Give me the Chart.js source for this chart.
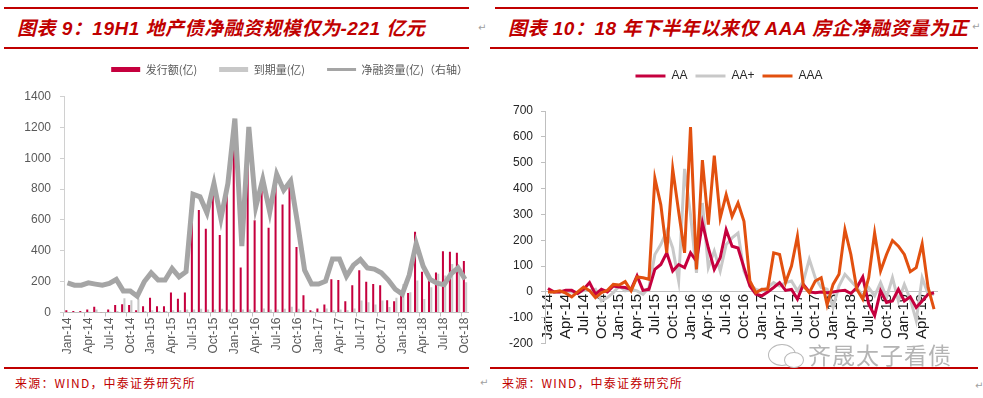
<!DOCTYPE html>
<html lang="zh-CN">
<head>
<meta charset="UTF-8">
<title>地产债净融资</title>
<script src="https://cdn.jsdelivr.net/npm/chart.js"></script>
<style>
  body { margin: 0; width: 983px; height: 398px; background: #fff; position: relative; overflow: hidden;
         font-family: "Liberation Sans", Arial, "Noto Sans CJK SC", sans-serif; }
  .rule { position: absolute; background: #C00000; }
  .title { position: absolute; top: 13px; height: 24px; line-height: 24px; white-space: nowrap; letter-spacing: 0.5px;
           font: italic bold 19px "Liberation Sans", Arial, "Noto Sans CJK SC", sans-serif; color: #C00000; }
  .source { position: absolute; top: 374px; line-height: 18px; white-space: nowrap;
            font: 12px "Noto Sans CJK SC", sans-serif; color: #C00000; letter-spacing: 1.2px; }
  .mark { position: absolute; font: 10px "DejaVu Sans", sans-serif; color: #a0a0a0; }
  .wm { position: absolute; left: 808px; top: 337px; font: 23px "Noto Sans CJK SC", sans-serif; color: #b4b4b4;
        letter-spacing: 1px; white-space: nowrap; }
  .wm-icon { position: absolute; left: 768px; top: 344px; width: 26px; height: 20px; border: 1.5px solid #b9b9b9; border-radius: 50%; }
  .wm-icon2 { position: absolute; left: 784px; top: 352px; width: 18px; height: 14px; border: 1.5px solid #b9b9b9; border-radius: 50%; background: #fff; }
  .box { position: absolute; }
</style>
</head>
<body>
  <!-- left panel frame -->
  <div class="rule" style="left:4px;top:7px;width:465px;height:2px"></div>
  <div class="title" style="left:17px">图表 9：19H1 地产债净融资规模仅为-221 亿元</div>
  <div class="rule" style="left:4px;top:47px;width:465px;height:1.5px"></div>
  <div class="rule" style="left:4px;top:367px;width:465px;height:1.5px"></div>
  <div class="source" style="left:15px">来源：WIND，中泰证券研究所</div>

  <!-- right panel frame -->
  <div class="rule" style="left:495px;top:7px;width:483px;height:2px"></div>
  <div class="title" style="left:508px">图表 10：18 年下半年以来仅 AAA 房企净融资量为正</div>
  <div class="rule" style="left:490px;top:47px;width:488px;height:1.5px"></div>
  <div class="rule" style="left:490px;top:367px;width:488px;height:1.5px"></div>
  <div class="source" style="left:502px">来源：WIND，中泰证券研究所</div>

  <span class="mark" style="left:478px;top:22px">↵</span>
  <span class="mark" style="left:972px;top:21px">↵</span>
  <span class="mark" style="left:480px;top:377px">↵</span>
  <span class="mark" style="left:975px;top:380px">↵</span>

  <div class="box" style="left:0;top:41.5px;width:490px;height:322.5px"><canvas id="leftChart"></canvas></div>
  <div class="box" style="left:490px;top:61.7px;width:490px;height:300px"><canvas id="rightChart"></canvas></div>

  <div class="wm-icon"></div><div class="wm-icon2"></div>
  <div class="wm">齐晟太子看债</div>

<script>
  // ---- data: left chart (Jan-14 .. Oct-18), 亿元 ----
  const MONTHS = ['Jan', 'Feb', 'Mar', 'Apr', 'May', 'Jun', 'Jul', 'Aug', 'Sep', 'Oct', 'Nov', 'Dec'];
  function monthLabels(startYear, count) {
    const out = [];
    for (let i = 0; i < count; i++) {
      out.push(MONTHS[i % 12] + '-' + String(startYear + Math.floor(i / 12)).slice(2));
    }
    return out;
  }
  const leftMonths = monthLabels(2014, 58);

  const issuance = [15, 9, 9, 19, 37, 2, 19, 48, 54, 48, 15, 41,
                    95, 41, 41, 130, 89, 130, 720, 665, 543, 780, 503, 760,
                    1100, 292, 1050, 598, 790, 549, 840, 700, 820, 425, 112, 15,
                    26, 52, 216, 210, 73, 177, 274, 199, 184, 177, 80, 73,
                    112, 127, 523, 264, 225, 259, 397, 393, 387, 333];
  const maturity = [3, 2, 2, 5, 20, 3, 5, 10, 93, 80, 90, 10,
                    15, 10, 10, 15, 15, 20, 20, 25, 20, 20, 25, 20,
                    20, 20, 20, 15, 26, 20, 20, 25, 37, 25, 20, 10,
                    5, 26, 15, 20, 15, 26, 77, 67, 52, 77, 35, 95,
                    185, 132, 207, 88, 164, 251, 240, 315, 272, 196];
  const netFinancing = [192, 177, 177, 192, 184, 177, 188, 214, 140, 140, 106, 199,
                        257, 210, 210, 285, 231, 264, 767, 750, 646, 836, 609, 836,
                        1257, 430, 1203, 685, 862, 652, 896, 793, 853, 577, 274, 184,
                        184, 203, 346, 346, 235, 307, 343, 289, 281, 257, 210, 151,
                        119, 242, 447, 300, 215, 190, 180, 250, 290, 215];

  // ---- data: right chart (Jan-14 .. Jun-19), 亿元 ----
  const rightMonths = monthLabels(2014, 66);
  const seriesAA = [13, 0, 0, 6, 6, -6, 10, 36, -9, 10, 0, 23,
                    19, 17, 10, 62, 6, 10, 87, 106, 151, 81, 106, 94,
                    151, 119, 267, 170, 87, 132, 241, 177, 170, 94, 23, -9,
                    -15, 0, 17, 36, 6, 10, -28, 29, 0, -3, 0, -3,
                    0, 4, 6, -6, 17, 58, -47, -92, 4, -41, -35, 10,
                    -35, -19, -60, -35, -9, -3];
  const seriesAAplus = [0, 0, 0, 3, 0, -3, 5, 5, 10, -35, -22, -3,
                        23, 4, 10, 4, -9, 17, 145, 183, 235, 170, 42, 476,
                        299, 74, 344, 94, 158, 81, 183, 209, 228, 81, 29, 10,
                        4, 17, 36, 23, 36, 42, 4, 42, 126, 55, 17, 10,
                        -60, 23, 68, 42, 17, -15, 17, -15, 36, -22, 55, -35,
                        29, -28, -111, 55, -9, -9];
  const seriesAAA = [0, 0, 4, -5, -19, 0, 19, 5, -22, -3, 6, 29,
                     27, 40, 4, 58, 55, 49, 440, 337, 151, 476, 311, 151,
                     638, 87, 510, 260, 527, 286, 376, 292, 344, 273, 42, -3,
                     10, 10, 151, 145, 36, 100, 215, 23, -3, 42, 55, -50,
                     29, 68, 241, 145, 10, -28, 55, 228, 81, 145, 199, 177,
                     145, 78, 94, 186, 17, -67];

  const RED = '#C5003E';
  const LIGHT = '#C8C8C8';
  const DARKGREY = '#A5A5A5';
  const ORANGE = '#E2500F';

  // fixes the legend height so the plot area lands where it should
  function legendHeight(h) {
    return {
      id: 'legendHeight',
      beforeInit(chart) {
        const fit = chart.legend.fit;
        chart.legend.fit = function () { fit.call(this); this.height = h; };
      }
    };
  }

  function lineLegend(styles) {
    return chart => chart.data.datasets.map((ds, i) => ({
      text: ds.label,
      fillStyle: styles[i].color,
      strokeStyle: styles[i].color,
      lineWidth: styles[i].width,
      pointStyle: 'line',
      fontColor: styles[i].font,
      datasetIndex: i,
      hidden: false
    }));
  }

  // ---- left chart ----
  new Chart(document.getElementById('leftChart'), {
    type: 'bar',
    data: {
      labels: leftMonths,
      datasets: [
        { label: '发行额(亿)', data: issuance, backgroundColor: RED, borderWidth: 0,
          barPercentage: 0.88, categoryPercentage: 0.66, order: 1 },
        { label: '到期量(亿)', data: maturity, backgroundColor: LIGHT, borderWidth: 0,
          barPercentage: 0.88, categoryPercentage: 0.66, order: 2 },
        { type: 'line', label: '净融资量(亿)（右轴）', data: netFinancing, yAxisID: 'y1',
          borderColor: DARKGREY, borderWidth: 5, pointRadius: 0, tension: 0, order: 0 }
      ]
    },
    options: {
      responsive: true,
      maintainAspectRatio: false,
      animation: false,
      layout: { padding: 0 },
      plugins: {
        legend: {
          position: 'top',
          align: 'end',
          labels: {
            usePointStyle: true,
            pointStyleWidth: 29,
            padding: 22,
            font: { family: '"Noto Sans CJK SC", sans-serif', size: 11 },
            color: '#595959',
            generateLabels: lineLegend([
              { color: RED, width: 5, font: '#595959' },
              { color: LIGHT, width: 5, font: '#595959' },
              { color: DARKGREY, width: 3, font: '#595959' }
            ])
          }
        },
        tooltip: { enabled: false }
      },
      scales: {
        x: {
          offset: true,
          afterFit: s => { s.height = 52; },
          grid: {
            offset: true, drawOnChartArea: false, drawTicks: true, tickLength: 4,
            color: c => (c.index % 3 === 0 ? '#BFBFBF' : 'rgba(0,0,0,0)')
          },
          border: { display: true, color: '#BFBFBF' },
          ticks: {
            autoSkip: false, maxRotation: 90, minRotation: 90, padding: 1,
            color: '#595959', font: { family: '"Liberation Sans", Arial', size: 12 },
            callback: (v, i) => (i % 3 === 0 ? leftMonths[i] : '')
          }
        },
        y: {
          min: 0, max: 1400,
          afterFit: s => { s.width = 64; },
          grid: { drawOnChartArea: false, drawTicks: true, tickLength: 4, color: '#D0D0D0' },
          border: { display: true, color: '#D0D0D0' },
          ticks: { stepSize: 200, padding: 9, color: '#595959',
                   font: { family: '"Liberation Sans", Arial', size: 12 },
                   callback: v => String(v) }
        },
        y1: {
          position: 'right',
          min: 0, max: 1400,
          afterFit: s => { s.width = 21.5; },
          grid: { display: false },
          border: { display: false },
          ticks: { display: false }
        }
      }
    },
    plugins: [legendHeight(54.5)]
  });

  // ---- right chart ----
  new Chart(document.getElementById('rightChart'), {
    type: 'line',
    data: {
      labels: rightMonths,
      datasets: [
        { label: 'AA', data: seriesAA, borderColor: RED, borderWidth: 3, pointRadius: 0, tension: 0, order: 1 },
        { label: 'AA+', data: seriesAAplus, borderColor: LIGHT, borderWidth: 3, pointRadius: 0, tension: 0, order: 2 },
        { label: 'AAA', data: seriesAAA, borderColor: ORANGE, borderWidth: 3, pointRadius: 0, tension: 0, order: 0 }
      ]
    },
    options: {
      responsive: true,
      maintainAspectRatio: false,
      animation: false,
      layout: { padding: { left: 0, right: 12, top: 0, bottom: 18.4 } },
      plugins: {
        legend: {
          position: 'top',
          align: 'center',
          labels: {
            usePointStyle: true,
            pointStyleWidth: 30,
            padding: 8,
            font: { family: '"Liberation Sans", Arial', size: 12 },
            color: '#262626',
            generateLabels: lineLegend([
              { color: RED, width: 3, font: '#262626' },
              { color: LIGHT, width: 3, font: '#262626' },
              { color: ORANGE, width: 3, font: '#262626' }
            ])
          }
        },
        tooltip: { enabled: false }
      },
      scales: {
        x: {
          position: { y: 0 },
          offset: true,
          afterFit: s => { s.height = 0; },
          grid: { drawOnChartArea: false, drawTicks: false },
          border: { display: true, color: '#BFBFBF' },
          ticks: {
            autoSkip: false, maxRotation: 90, minRotation: 90, padding: 2,
            color: '#1a1a1a', font: { family: '"Liberation Sans", Arial', size: 15 },
            callback: (v, i) => (i % 3 === 0 ? rightMonths[i] : '')
          }
        },
        y: {
          min: -200, max: 700,
          afterFit: s => { s.width = 55; },
          grid: { drawOnChartArea: false, drawTicks: true, tickLength: 4, color: '#BFBFBF' },
          border: { display: true, color: '#BFBFBF' },
          ticks: { stepSize: 100, padding: 8, color: '#262626',
                   font: { family: '"Liberation Sans", Arial', size: 12 } }
        },
        yPad: {
          position: 'right',
          min: -200, max: 700,
          afterFit: s => { s.width = 31; },
          grid: { display: false },
          border: { display: false },
          ticks: { display: false }
        }
      }
    },
    plugins: [legendHeight(49)]
  });
</script>
</body>
</html>
